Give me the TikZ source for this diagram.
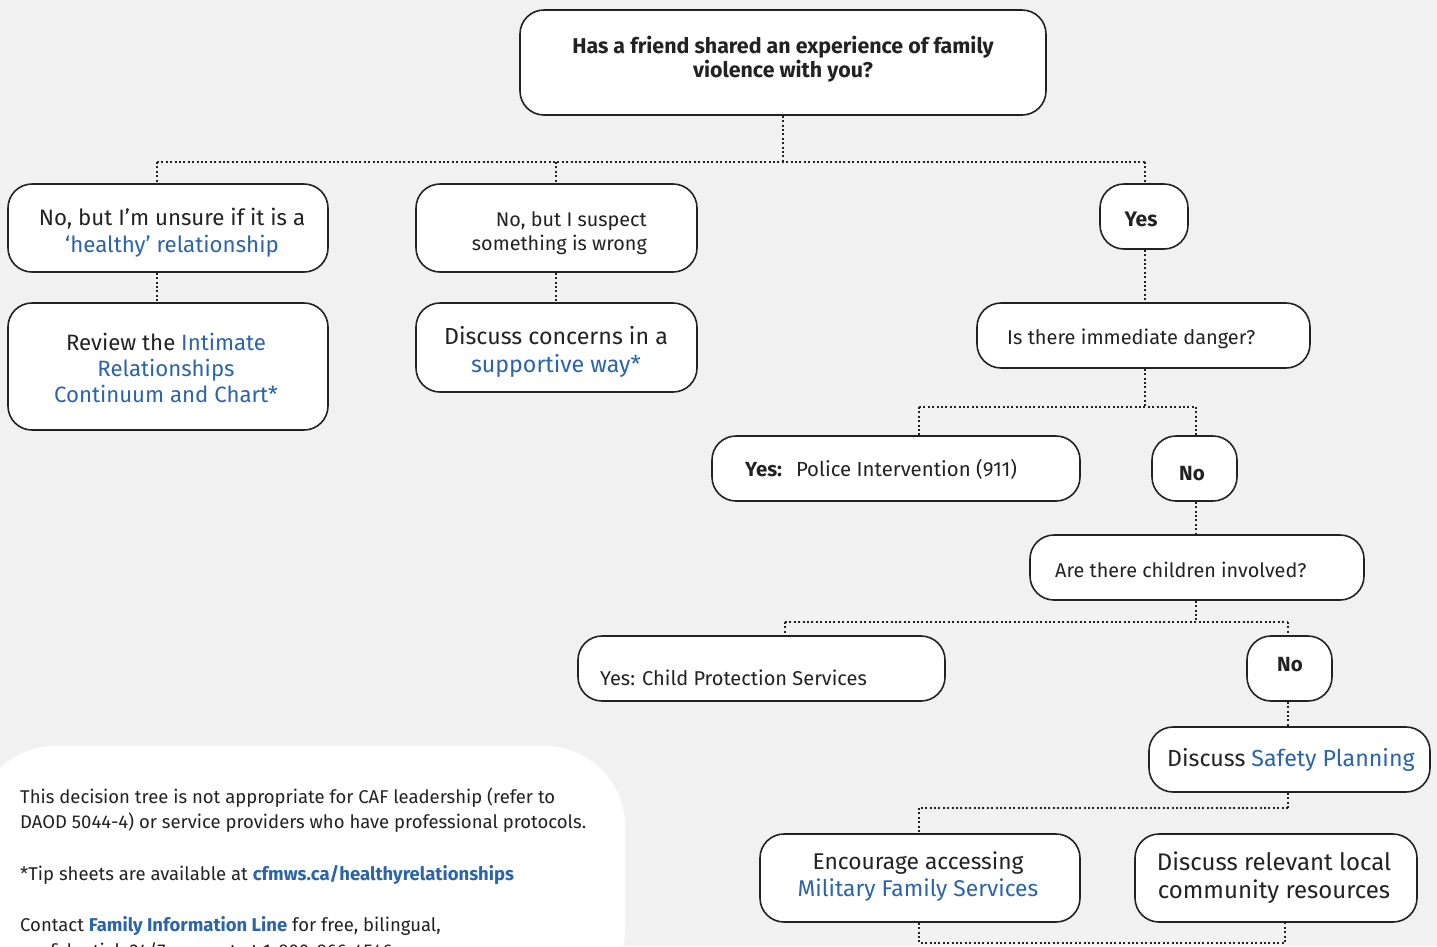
\documentclass[tikz,border=0pt]{standalone}
\usepackage{fontspec}
\setmainfont{Fira Sans}
\newfontfamily\cnd{Fira Sans}
\definecolor{bg}{HTML}{F1F1F1}
\definecolor{lnk}{HTML}{2B64A8}
\definecolor{ink}{HTML}{222222}
\newcommand\fsz[2]{\fontsize{#1}{#2}\selectfont}
\newcommand\lk[1]{\textcolor{lnk}{#1}}
\begin{document}
\begin{tikzpicture}[x=1pt,y=-1pt,
  box/.style={draw=ink, line width=1.6pt, rounded corners=24pt, fill=white, inner sep=0pt},
  conn/.style={draw=ink, line width=2pt, dash pattern=on 2pt off 2.4pt},
  txt/.style={inner sep=0pt, text=ink, font=\cnd}]
\fill[bg] (0,0) rectangle (1437,946);
\useasboundingbox (0,0) rectangle (1437,946);

% boxes
\node[box, minimum width=526pt, minimum height=105pt] (q1) at (783,62.5) {};
\node[box, minimum width=320pt, minimum height=88pt] (a1) at (168,228) {};
\node[box, minimum width=281pt, minimum height=88pt] (a2) at (556.5,228) {};
\node[box, minimum width=88pt, minimum height=65pt] (yes) at (1144,216.5) {};
\node[box, minimum width=320pt, minimum height=127pt] (r1) at (168,366.5) {};
\node[box, minimum width=281pt, minimum height=89pt] (r2) at (556.5,347.5) {};
\node[box, minimum width=333pt, minimum height=65pt] (q2) at (1143.5,335.5) {};
\node[box, minimum width=368pt, minimum height=65pt] (pol) at (896,468.5) {};
\node[box, minimum width=85pt, minimum height=65pt] (no1) at (1194.5,468.5) {};
\node[box, minimum width=334pt, minimum height=65pt] (q3) at (1197,567.5) {};
\node[box, minimum width=367pt, minimum height=65pt] (cps) at (761.5,668.5) {};
\node[box, minimum width=85pt, minimum height=65pt] (no2) at (1289.5,668.5) {};
\node[box, minimum width=281pt, minimum height=65pt] (sp) at (1289.5,759.5) {};
\node[box, minimum width=320pt, minimum height=88pt] (mfs) at (920,878) {};
\node[box, minimum width=282pt, minimum height=88pt] (loc) at (1276,878) {};

% texts
\node[txt, align=center, font=\cnd\bfseries\fsz{21.4}{24}] (t-q1) at (783,59) {Has a friend shared an experience of family\\violence with you?};
\node[txt, align=center, font=\cnd\fsz{22.3}{27}] (t-a1) at (172,232.5) {No, but I’m unsure if it is a\\\lk{‘healthy’ relationship}};
\node[txt, align=right, anchor=east, font=\cnd\fsz{19.8}{24}] (t-a2) at (647,233) {No, but I suspect\\something is wrong};
\node[txt, font=\cnd\bfseries\fsz{21}{24}] (t-yes) at (1141,219) {Yes};
\node[txt, align=center, font=\cnd\fsz{22.2}{26}] (t-r1) at (166,368) {Review the \lk{Intimate}\\\lk{Relationships}\\\lk{Continuum and Chart*}};
\node[txt, align=center, font=\cnd\fsz{23.2}{28}] (t-r2) at (556,352) {Discuss concerns in a\\\lk{supportive way*}};
\node[txt, anchor=west, font=\cnd\fsz{20}{24}] (t-q2) at (1007,339) {Is there immediate danger?};
\node[txt, anchor=west, font=\cnd\fsz{20.4}{24}] (t-pol) at (745,469) {\textbf{Yes:}\,\, Police Intervention (911)};
\node[txt, font=\cnd\bfseries\fsz{20.5}{24}] (t-no1) at (1192,474) {No};
\node[txt, anchor=west, font=\cnd\fsz{19.8}{24}] (t-q3) at (1055,570) {Are there children involved?};
\node[txt, anchor=west, font=\cnd\fsz{20}{24}] (t-cps) at (600,678) {Yes: Child Protection Services};
\node[txt, font=\cnd\bfseries\fsz{20.5}{24}] (t-no2) at (1290,665) {No};
\node[txt, anchor=west, font=\cnd\fsz{23.2}{28}] (t-sp) at (1167,760) {Discuss \lk{Safety Planning}};
\node[txt, align=center, font=\cnd\fsz{22.8}{27}] (t-mfs) at (918,877) {Encourage accessing\\\lk{Military Family Services}};
\node[txt, align=center, font=\cnd\fsz{24}{28}] (t-loc) at (1274,878) {Discuss relevant local\\community resources};

% connectors
\coordinate (h1l) at (157,162);
\coordinate (h1m) at (556,162);
\coordinate (h1r) at (1145,162);
\draw[conn] (q1.south) -- (q1.south |- h1l);
\draw[conn] (h1l) -- (h1r);
\draw[conn] (h1l) -- (h1l |- a1.north);
\draw[conn] (h1m) -- (h1m |- a2.north);
\draw[conn] (h1r) -- (h1r |- yes.north);
\draw[conn] (a1.south -| h1l) -- (h1l |- r1.north);
\draw[conn] (a2.south -| h1m) -- (h1m |- r2.north);
\draw[conn] (yes.south -| h1r) -- (h1r |- q2.north);

\coordinate (h2l) at (919,407);
\coordinate (h2r) at (1196,407);
\draw[conn] (q2.south -| h1r) -- (h1r |- h2l);
\draw[conn] (h2l) -- (h2r);
\draw[conn] (h2l) -- (h2l |- pol.north);
\draw[conn] (h2r) -- (h2r |- no1.north);
\draw[conn] (no1.south -| h2r) -- (h2r |- q3.north);

\coordinate (h3l) at (785,622);
\coordinate (h3r) at (1288,622);
\draw[conn] (q3.south -| h2r) -- (h2r |- h3l);
\draw[conn] (h3l) -- (h3r);
\draw[conn] (h3l) -- (h3l |- cps.north);
\draw[conn] (h3r) -- (h3r |- no2.north);
\draw[conn] (no2.south -| h3r) -- (h3r |- sp.north);

\coordinate (h4l) at (919,808);
\coordinate (h4r) at (1288,808);
\draw[conn] (sp.south -| h4r) -- (h4r);
\draw[conn] (h4r) -- (h4l);
\draw[conn] (h4l) -- (h4l |- mfs.north);

\coordinate (h5l) at (919,943);
\coordinate (h5r) at (1285,943);
\draw[conn] (mfs.south -| h5l) -- (h5l) -- (h5r) -- (h5r |- loc.south);

% note panel
\begin{scope}
\clip (0,0) rectangle (1437,946);
\fill[white, rounded corners=80pt] (-25,746) rectangle (625,1010);
\node[txt, anchor=base west, font=\cnd\fsz{18.5}{25}] (n1) at (20,803) {This decision tree is not appropriate for CAF leadership (refer to};
\node[txt, anchor=base west, font=\cnd\fsz{18.5}{25}] (n2) at (20,828) {DAOD 5044-4) or service providers who have professional protocols.};
\node[txt, anchor=base west, font=\cnd\fsz{18.5}{25}] (n3) at (20,880) {*Tip sheets are available at \textbf{\lk{cfmws.ca/healthyrelationships}}};
\node[txt, anchor=base west, font=\cnd\fsz{18.5}{25}] (n4) at (20,931) {Contact \textbf{\lk{Family Information Line}} for free, bilingual,};
\node[txt, anchor=base west, font=\cnd\fsz{18.5}{25}] (n5) at (20,957) {confidential, 24/7 support at 1-800-866-4546};
\end{scope}
\end{tikzpicture}
\end{document}
